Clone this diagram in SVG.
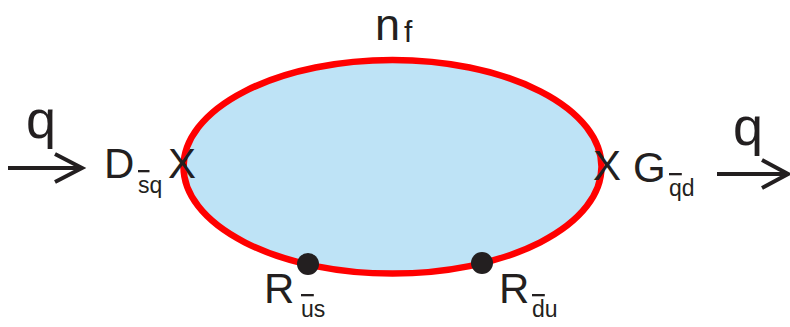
<svg xmlns="http://www.w3.org/2000/svg" width="790" height="327" viewBox="0 0 790 327">
<style>
text{font-family:"Liberation Sans",Arial,sans-serif;fill:#231f20}
.big{font-size:42px}
.q{font-size:54px}
.sub{font-size:23px}
.ol{text-decoration:overline}
.arr{stroke:#231f20;stroke-width:4;fill:none;stroke-linecap:butt}
</style>
<rect width="790" height="327" fill="#ffffff"/>
<g id="loop">
<ellipse cx="392.5" cy="166.8" rx="209" ry="106.8" fill="#bee3f6" stroke="#ff0000" stroke-width="6.5"/>
</g>
<g id="nf"><text x="375" y="40" style="font-size:45px">n</text><text x="404" y="42" style="font-size:30px">f</text></g>
<g id="connectors">
<path class="arr" d="M8 168H81M55 154L82 168L55 182"/>
<path class="arr" d="M717 174H787M762 160L788 174L762 188"/>
</g>
<g id="q-in"><text class="q" x="26" y="138">q</text></g>
<g id="q-out"><text class="q" x="733" y="145">q</text></g>
<g id="D"><text class="big" x="104" y="178">D</text><text class="sub" x="138" y="193"><tspan class="ol">s</tspan>q</text><text class="big" x="168" y="178">X</text></g>
<g id="G"><text class="big" x="593" y="180">X</text><text class="big" x="633" y="182">G</text><text class="sub" x="669" y="196"><tspan class="ol">q</tspan>d</text></g>
<g id="R1"><circle cx="308" cy="264" r="11" fill="#231f20"/><text class="big" x="264" y="303">R</text><text class="sub" x="301" y="317"><tspan class="ol">u</tspan>s</text></g>
<g id="R2"><circle cx="482" cy="263" r="11" fill="#231f20"/><text class="big" x="499" y="303">R</text><text class="sub" x="532" y="317"><tspan class="ol">d</tspan>u</text></g>
</svg>
